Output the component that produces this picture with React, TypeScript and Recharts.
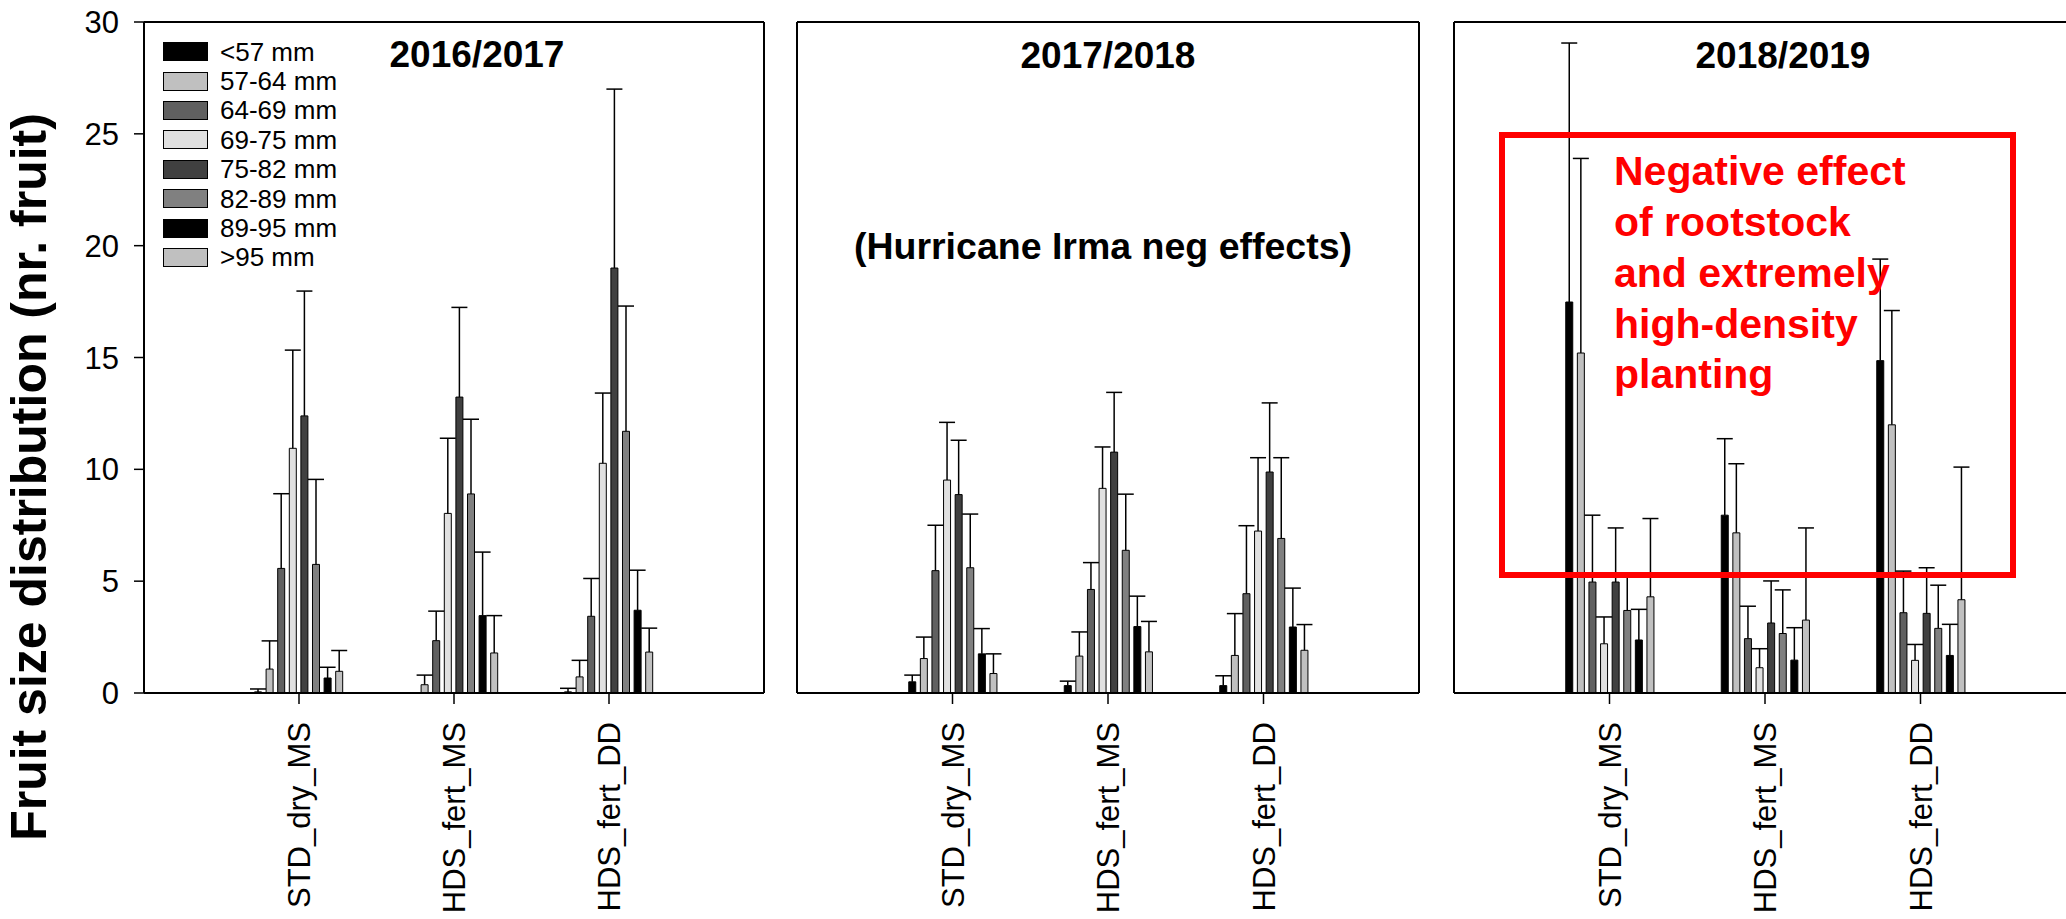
import React from "react";
import { BarChart, Bar, XAxis, YAxis, ErrorBar, Legend, CartesianGrid } from "recharts";

const categories = ["STD_dry_MS", "HDS_fert_MS", "HDS_fert_DD"];
const sizeClasses = ["<57 mm", "57-64 mm", "64-69 mm", "69-75 mm", "75-82 mm", "82-89 mm", "89-95 mm", ">95 mm"];
const classFills = ["#000000", "#c0c0c0", "#606060", "#e0e0e0", "#404040", "#808080", "#000000", "#c0c0c0"];
const yTicks = [0, 5, 10, 15, 20, 25, 30];

// mean fruit count per size class, one row per treatment
const mean1617 = [
    [0.05, 1.07, 5.57, 10.94, 12.39, 5.75, 0.67, 0.97],
    [0, 0.37, 2.34, 8.03, 13.23, 8.9, 3.46, 1.79],
    [0.05, 0.72, 3.43, 10.27, 19.0, 11.7, 3.7, 1.83],
];
// upper error (SE) per size class
const err1617 = [
    [0.13, 1.26, 3.34, 4.39, 5.58, 3.8, 0.48, 0.93],
    [0, 0.43, 1.32, 3.36, 4.01, 3.34, 2.84, 1.67],
    [0.16, 0.74, 1.69, 3.14, 8.0, 5.6, 1.79, 1.07],
];

const mean1718 = [
    [0.5, 1.54, 5.47, 9.52, 8.87, 5.6, 1.75, 0.87],
    [0.33, 1.65, 4.63, 9.15, 10.77, 6.38, 2.97, 1.84],
    [0.33, 1.68, 4.44, 7.24, 9.88, 6.91, 2.95, 1.91],
];
const err1718 = [
    [0.3, 0.96, 2.03, 2.58, 2.43, 2.4, 1.13, 0.88],
    [0.2, 1.08, 1.2, 1.85, 2.67, 2.51, 1.36, 1.36],
    [0.44, 1.87, 3.04, 3.28, 3.09, 3.61, 1.74, 1.15],
];

const mean1819 = [
    [17.48, 15.2, 4.96, 2.2, 4.96, 3.69, 2.37, 4.3],
    [7.95, 7.16, 2.43, 1.13, 3.13, 2.66, 1.47, 3.26],
    [14.86, 11.99, 3.59, 1.46, 3.56, 2.89, 1.68, 4.17],
];
const err1819 = [
    [11.58, 8.7, 2.99, 1.2, 2.42, 1.6, 1.37, 3.5],
    [3.42, 3.09, 1.45, 0.85, 1.88, 1.95, 1.45, 4.12],
    [4.54, 5.11, 1.86, 0.71, 2.04, 1.93, 1.39, 5.93],
];

function buildRows(means: number[][], errs: number[][]) {
    return categories.map((cat, i) => {
        const row: any = { cat };
        sizeClasses.forEach((_, k) => {
            row["m" + k] = means[i][k];
            row["e" + k] = [0, errs[i][k]]; // only the upper whisker
        });
        return row;
    });
}

const FONT = "'Liberation Sans', Arial, sans-serif";

function CatTick(props: any) {
    const { x, y, payload } = props;
    return (
        <text
            x={x}
            y={y}
            transform={`rotate(-90, ${x}, ${y})`}
            textAnchor="end"
            dy="0.36em"
            fontSize={31}
            fontFamily={FONT}
            fill="#000"
        >
            {payload.value}
        </text>
    );
}

function LegendBoxes(props: any) {
    const items = [...(props.payload || [])].sort(
        (a: any, b: any) => sizeClasses.indexOf(a.value) - sizeClasses.indexOf(b.value)
    );
    return (
        <div style={{ fontFamily: FONT }}>
            {items.map((p: any) => (
                <div key={p.value} style={{ display: "flex", alignItems: "center", height: 29.4 }}>
                    <span
                        style={{
                            display: "inline-block",
                            width: 45,
                            height: 19,
                            boxSizing: "border-box",
                            background: p.color,
                            border: "1.5px solid #000",
                            marginRight: 12,
                        }}
                    />
                    <span style={{ fontSize: 26, lineHeight: "26px", color: "#000" }}>{p.value}</span>
                </div>
            ))}
        </div>
    );
}

type PanelProps = {
    rows: any[];
    left: number;
    width: number;
    yWidth: number;
    marginRight: number;
    showYLabels?: boolean;
    showLegend?: boolean;
};

function SeasonPanel({ rows, left, width, yWidth, marginRight, showYLabels, showLegend }: PanelProps) {
    const plotW = width - yWidth - marginRight;
    const pad = plotW / 8;
    const axisStyle = { stroke: "#000", strokeWidth: 2 };
    return (
        <div style={{ position: "absolute", left, top: 0 }}>
            <BarChart
                width={width}
                height={919}
                data={rows}
                margin={{ top: 22, right: marginRight, left: 0, bottom: 0 }}
                barSize={7}
                barGap={4.6}
            >
                {/* top and right edges of the panel frame */}
                <CartesianGrid
                    stroke="#000"
                    strokeWidth={2}
                    horizontalCoordinatesGenerator={({ offset }: any) => [offset.top]}
                    verticalCoordinatesGenerator={({ offset }: any) => [offset.left + offset.width]}
                />
                <XAxis
                    dataKey="cat"
                    height={226}
                    interval={0}
                    tickSize={11}
                    tickMargin={18}
                    tickLine={{ stroke: "#000", strokeWidth: 1.5 }}
                    axisLine={axisStyle}
                    padding={{ left: pad, right: pad }}
                    tick={<CatTick />}
                />
                <YAxis
                    type="number"
                    domain={[0, 30]}
                    ticks={yTicks}
                    width={yWidth}
                    tickSize={10}
                    tickMargin={15}
                    tickLine={{ stroke: "#000", strokeWidth: 1.5 }}
                    axisLine={axisStyle}
                    tick={showYLabels ? { fontSize: 31, fill: "#000", fontFamily: FONT } : false}
                />
                {sizeClasses.map((name, k) => (
                    <Bar
                        key={name}
                        dataKey={"m" + k}
                        name={name}
                        fill={classFills[k]}
                        stroke="#000"
                        strokeWidth={1}
                        isAnimationActive={false}
                    >
                        <ErrorBar
                            dataKey={"e" + k}
                            direction="y"
                            width={8}
                            stroke="#000"
                            strokeWidth={1.5}
                            isAnimationActive={false}
                        />
                    </Bar>
                ))}
                {showLegend && (
                    <Legend
                        layout="vertical"
                        align="center"
                        verticalAlign="middle"
                        wrapperStyle={{ top: 37, left: 163, width: 200 }}
                        content={<LegendBoxes />}
                    />
                )}
            </BarChart>
        </div>
    );
}

export default function App() {
    const rows1617 = buildRows(mean1617, err1617);
    const rows1718 = buildRows(mean1718, err1718);
    const rows1819 = buildRows(mean1819, err1819);

    return (
        <div
            style={{
                position: "absolute",
                left: 0,
                top: 0,
                width: 2066,
                height: 919,
                overflow: "hidden",
                background: "#fff",
                fontFamily: FONT,
            }}
        >
            <style>{`.recharts-errorBar > :nth-child(3){display:none}`}</style>
            <SeasonPanel rows={rows1617} left={0} width={800} yWidth={144} marginRight={36} showYLabels showLegend />
            <SeasonPanel rows={rows1718} left={760} width={680} yWidth={37} marginRight={21} />
            <SeasonPanel rows={rows1819} left={1420} width={680} yWidth={34} marginRight={24} />

            <svg
                width={2066}
                height={919}
                style={{ position: "absolute", left: 0, top: 0, pointerEvents: "none" }}
                fontFamily={FONT}
            >
                <text
                    x={46}
                    y={477}
                    transform="rotate(-90, 46, 477)"
                    textAnchor="middle"
                    fontSize={50}
                    fontWeight="bold"
                    fill="#000"
                >
                    Fruit size distribution (nr. fruit)
                </text>
                <text x={477} y={67} textAnchor="middle" fontSize={37} fontWeight="bold" fill="#000">
                    2016/2017
                </text>
                <text x={1108} y={68} textAnchor="middle" fontSize={37} fontWeight="bold" fill="#000">
                    2017/2018
                </text>
                <text x={1783} y={68} textAnchor="middle" fontSize={37} fontWeight="bold" fill="#000">
                    2018/2019
                </text>
                <text x={1103} y={259} textAnchor="middle" fontSize={37.5} fontWeight="bold" fill="#000">
                    (Hurricane Irma neg effects)
                </text>
                <rect x={1502} y={135} width={511} height={440} fill="none" stroke="#ff0000" strokeWidth={6} />
                <g fontSize={41} fontWeight="bold" fill="#ff0000">
                    <text x={1614} y={185}>Negative effect</text>
                    <text x={1614} y={236}>of rootstock</text>
                    <text x={1614} y={287}>and extremely</text>
                    <text x={1614} y={338}>high-density</text>
                    <text x={1614} y={388}>planting</text>
                </g>
            </svg>
        </div>
    );
}
